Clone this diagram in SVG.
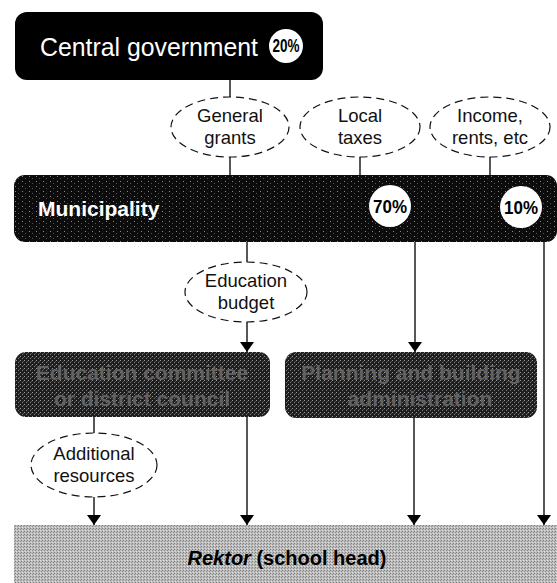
<svg xmlns="http://www.w3.org/2000/svg" width="557" height="583" viewBox="0 0 557 583">
<style>
.lbl{font-family:"Liberation Sans",Arial,sans-serif;font-size:18.5px;fill:#111;text-anchor:middle}
.oval{fill:#fff;stroke:#111;stroke-width:1.2;stroke-dasharray:8 5}
.conn{stroke:#111;stroke-width:1.4;fill:none}
.pct{fill:#fff}
.pcttxt{font-family:"Liberation Sans",Arial,sans-serif;font-size:19px;font-weight:bold;fill:#000;text-anchor:middle}
.mid{font-family:"Liberation Sans",Arial,sans-serif;font-size:21px;font-weight:bold;fill:#626262;text-anchor:middle}
</style>
<defs>
<pattern id="pMuni" width="7" height="5" patternUnits="userSpaceOnUse">
<rect width="7" height="5" fill="#0c0c0c"/>
<rect x="1" y="1" width="1" height="1" fill="#8a8a8a"/>
<rect x="4" y="3" width="1" height="1" fill="#555"/>
</pattern>
<pattern id="pMid" width="4" height="4" patternUnits="userSpaceOnUse">
<rect width="4" height="4" fill="#1e1e1e"/>
<rect x="0" y="0" width="1" height="1" fill="#9a9a9a"/>
<rect x="2" y="2" width="1" height="1" fill="#7a7a7a"/>
<rect x="3" y="1" width="1" height="1" fill="#505050"/>
</pattern>
<pattern id="pRek" width="3" height="3" patternUnits="userSpaceOnUse">
<rect width="3" height="3" fill="#bdbdbd"/>
<rect x="0" y="0" width="1" height="1" fill="#7e7e7e"/>
<rect x="2" y="1" width="1" height="1" fill="#8e8e8e"/>
<rect x="1" y="2" width="1" height="1" fill="#e0e0e0"/>
</pattern>
<marker id="arr" viewBox="0 -7 10 14" refX="10" refY="0" markerWidth="10" markerHeight="14" markerUnits="userSpaceOnUse" orient="auto">
<path d="M0,-7 L10,0 L0,7 z" fill="#000"/>
</marker>
</defs>

<g id="connectors">
<line class="conn" x1="230" y1="80" x2="230" y2="97"/>
<line class="conn" x1="230" y1="157" x2="230" y2="176"/>
<line class="conn" x1="360" y1="157" x2="360" y2="176"/>
<line class="conn" x1="490" y1="157" x2="490" y2="176"/>
<line class="conn" x1="247" y1="242" x2="247" y2="262"/>
<line class="conn" x1="247" y1="322" x2="247" y2="352" marker-end="url(#arr)"/>
<line class="conn" x1="415" y1="242" x2="415" y2="352" marker-end="url(#arr)"/>
<line class="conn" x1="544" y1="242" x2="544" y2="525" marker-end="url(#arr)"/>
<line class="conn" x1="94" y1="417" x2="94" y2="433"/>
<line class="conn" x1="94" y1="497" x2="94" y2="525" marker-end="url(#arr)"/>
<line class="conn" x1="247" y1="417" x2="247" y2="525" marker-end="url(#arr)"/>
<line class="conn" x1="414" y1="418" x2="414" y2="525" marker-end="url(#arr)"/>
</g>

<g id="central">
<rect x="15" y="12" width="308" height="68" rx="12" fill="#000"/>
<text x="40" y="56" font-family="Liberation Sans, Arial, sans-serif" font-size="25" fill="#fff" textLength="218" lengthAdjust="spacingAndGlyphs">Central government</text>
<circle class="pct" cx="286" cy="46" r="17"/>
<text class="pcttxt" x="286" y="52" font-size="16" textLength="27" lengthAdjust="spacingAndGlyphs">20%</text>
</g>

<g id="general-grants">
<ellipse class="oval" cx="230" cy="127" rx="59" ry="30"/>
<text class="lbl" x="230" y="122">General</text>
<text class="lbl" x="230" y="144">grants</text>
</g>

<g id="local-taxes">
<ellipse class="oval" cx="360" cy="127" rx="60" ry="30"/>
<text class="lbl" x="360" y="122">Local</text>
<text class="lbl" x="360" y="144">taxes</text>
</g>

<g id="income">
<ellipse class="oval" cx="490" cy="127" rx="60" ry="30"/>
<text class="lbl" x="490" y="122">Income,</text>
<text class="lbl" x="490" y="144">rents, etc</text>
</g>

<g id="municipality">
<rect x="14" y="175" width="543" height="67" rx="11" fill="url(#pMuni)"/>
<text x="38" y="216" font-family="Liberation Sans, Arial, sans-serif" font-size="21" font-weight="bold" fill="#fff">Municipality</text>
<circle class="pct" cx="390" cy="206" r="21"/>
<text class="pcttxt" x="390" y="213" textLength="34" lengthAdjust="spacingAndGlyphs">70%</text>
<circle class="pct" cx="521" cy="207" r="21"/>
<text class="pcttxt" x="521" y="214" textLength="34" lengthAdjust="spacingAndGlyphs">10%</text>
</g>

<g id="education-budget">
<ellipse class="oval" cx="246" cy="292" rx="61" ry="30"/>
<text class="lbl" x="246" y="287">Education</text>
<text class="lbl" x="246" y="309">budget</text>
</g>

<g id="education-committee">
<rect x="15" y="352" width="255" height="65" rx="11" fill="url(#pMid)"/>
<text class="mid" x="142" y="380">Education committee</text>
<text class="mid" x="142" y="406">or district council</text>
</g>

<g id="planning">
<rect x="285" y="352" width="252" height="66" rx="11" fill="url(#pMid)"/>
<text class="mid" x="411" y="380">Planning and building</text>
<text class="mid" x="420" y="406">administration</text>
</g>

<g id="additional-resources">
<ellipse class="oval" cx="94" cy="465" rx="63" ry="32"/>
<text class="lbl" x="94" y="460">Additional</text>
<text class="lbl" x="94" y="482">resources</text>
</g>

<g id="rektor">
<rect x="14" y="525" width="543" height="58" fill="url(#pRek)"/>
<text x="287" y="565" font-family="Liberation Sans, Arial, sans-serif" font-size="20" font-weight="bold" fill="#000" text-anchor="middle"><tspan font-style="italic">Rektor</tspan> (school head)</text>
</g>
</svg>
